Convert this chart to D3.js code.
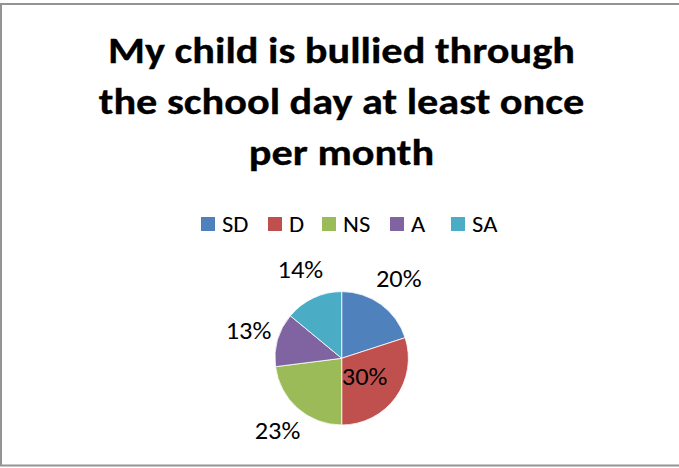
<!DOCTYPE html>
<html><head><meta charset="utf-8">
<script src="https://cdn.jsdelivr.net/npm/d3@7"></script>
<style>html,body{margin:0;padding:0;background:#fff;}svg{display:block;}</style>
</head><body>
<script>
const titleLines = ["My child is bullied through", "the school day at least once", "per month"];
const categories = ["SD", "D", "NS", "A", "SA"];
const values = [20, 30, 23, 13, 14];
const colors = ["#4F81BD", "#C0504D", "#9BBB59", "#8064A2", "#4BACC6"];

const W = 679, H = 468;
const font = "Carlito, Calibri, Lato, sans-serif";
const svg = d3.select("body").append("svg").attr("width", W).attr("height", H);

svg.append("rect").attr("width", W).attr("height", H).attr("fill", "#fff");
svg.append("rect").attr("x", 1).attr("y", 4).attr("width", W + 2).attr("height", H - 6.5)
  .attr("fill", "none").attr("stroke", "#949494").attr("stroke-width", 2);

// Title
const cx = 341.5;
const tg = svg.append("g");
const baselines = [63, 114, 165];
const titleSize = 36;
const probe = tg.append("text").attr("font-family", font).attr("font-weight", "bold")
  .attr("font-size", titleSize).text(titleLines[0]);
const tsx = 467 / probe.node().getComputedTextLength();
probe.remove();
titleLines.forEach((l, i) => {
  tg.append("text").attr("transform", `translate(${cx},${baselines[i]}) scale(${tsx},1)`)
    .attr("text-anchor", "middle")
    .attr("font-family", font).attr("font-weight", "bold").attr("font-size", titleSize)
    .attr("fill", "#000").attr("stroke", "#000").attr("stroke-width", 0.3).text(l);
});

// Legend
const color = d3.scaleOrdinal().domain(categories).range(colors);
const legendX = [201, 268, 322, 390, 451];
const lg = svg.append("g");
categories.forEach((c, i) => {
  const g = lg.append("g").attr("transform", `translate(${legendX[i]},217)`);
  g.append("rect").attr("width", 14).attr("height", 14).attr("fill", color(c));
  g.append("text").attr("transform", "translate(21,14.6) scale(1.12,1)")
    .attr("font-family", font).attr("font-size", 22)
    .attr("fill", "#000").text(c);
});

// Pie
const pcx = 341.7, pcy = 358.3, R = 66.7;
const pie = d3.pie().sort(null).value(d => d.v);
const data = pie(categories.map((c, i) => ({c, v: values[i]})));
const arc = d3.arc().innerRadius(0).outerRadius(R);
const pg = svg.append("g").attr("transform", `translate(${pcx},${pcy})`);
pg.selectAll("path").data(data).join("path").attr("d", arc)
  .attr("fill", d => color(d.data.c)).attr("stroke", "#fff").attr("stroke-width", 0.8);

const total = d3.sum(values);
const outerLabel = d3.arc().innerRadius(97).outerRadius(97);
pg.selectAll("text.lbl").data(data).join("text").attr("class", "lbl")
  .attr("transform", d => {
    const inside = d.data.v / total >= 0.25;
    const [x, y] = inside ? arc.centroid(d) : outerLabel.centroid(d);
    return `translate(${x - (inside ? 4 : 0)},${y + 7.5}) scale(1.1,1)`;
  })
  .attr("text-anchor", "middle").attr("font-family", font).attr("font-size", 24).attr("fill", "#000")
  .text(d => Math.round(d.data.v / total * 100) + "%");
</script>
</body></html>
